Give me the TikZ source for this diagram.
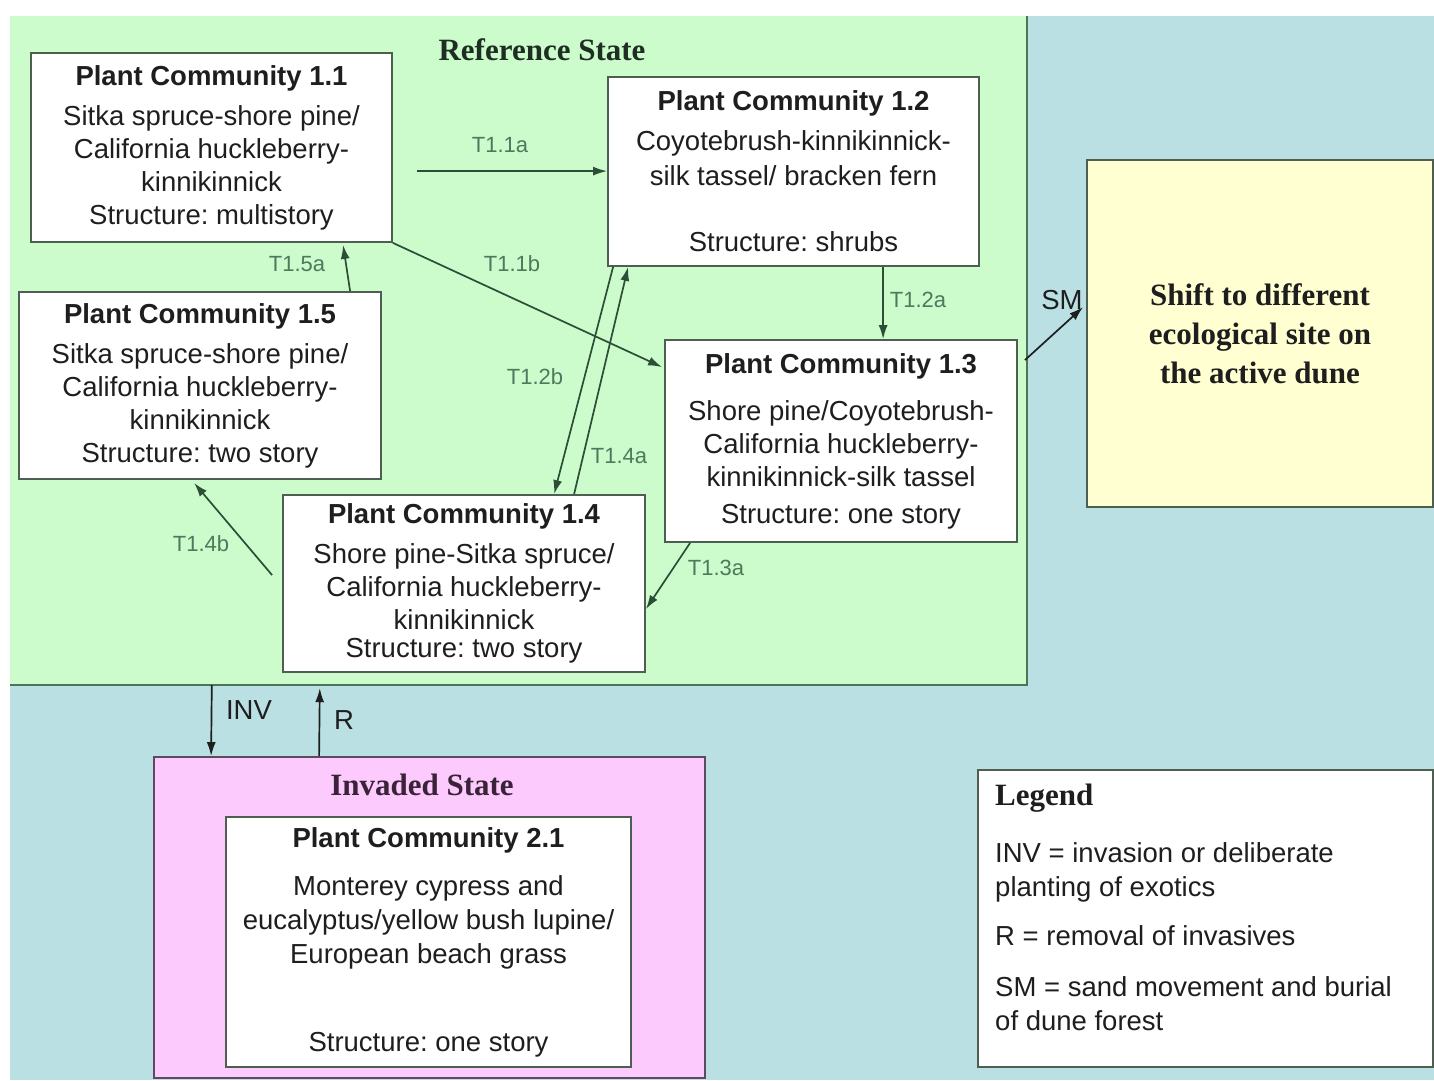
\documentclass[tikz,border=0pt]{standalone}
\usepackage{fontspec}
\setmainfont{Liberation Sans}
\newfontfamily\serifface{Liberation Serif}
\usetikzlibrary{arrows.meta,calc}
\definecolor{greenbg}{HTML}{CCFBCC}
\definecolor{bluebg}{HTML}{BAE0E3}
\definecolor{pinkbg}{HTML}{FCCAFC}
\definecolor{yellowbg}{HTML}{FFFFD2}
\definecolor{boxline}{HTML}{4E5F52}
\definecolor{greenline}{HTML}{4A7556}
\definecolor{pinkline}{HTML}{5E4A5E}
\definecolor{arrowcol}{HTML}{2C4E36}
\definecolor{labelcol}{HTML}{4C7A5C}
\definecolor{textcol}{HTML}{1E1E1E}
\definecolor{refcol}{HTML}{1E2E22}
\definecolor{invcol}{HTML}{3A2238}
\frenchspacing
\begin{document}
\begin{tikzpicture}[x=1pt,y=-1pt,
  pcbox/.style={draw=boxline,line width=1.8pt,fill=white,inner sep=0pt,align=center,text=textcol,font=\fontsize{27.5}{33}\selectfont},
  trans/.style={draw=arrowcol,line width=1.7pt,-{Latex[length=14pt,width=9pt]}},
  blackarrow/.style={draw=textcol,line width=1.7pt,-{Latex[length=14pt,width=9pt]}},
  tlabel/.style={text=labelcol,font=\fontsize{22}{26}\selectfont,inner sep=0pt},
  blabel/.style={text=textcol,font=\fontsize{27.5}{34}\selectfont,inner sep=0pt},
  serifhead/.style={font=\serifface\bfseries\fontsize{31}{39}\selectfont,inner sep=0pt}
]
\useasboundingbox (0,0) rectangle (1434,1080);
\fill[white] (0,0) rectangle (1434,1080);
\fill[bluebg] (10,16) rectangle (1434,1080);
% reference state region
\node[fill=greenbg,minimum width=1017pt,minimum height=669pt,inner sep=0pt] (refstate) at (518.5,350.5) {};
\draw[greenline,line width=2.5pt] (refstate.north east) -- (refstate.south east) -- (refstate.south west);
\node[serifhead,text=refcol] (reftitle) at (542,50) {Reference State};
% plant communities
\node[pcbox,minimum width=361pt,minimum height=189pt] (pc11) at (211.5,147.5)
  {\textbf{Plant Community 1.1}\\[7pt]Sitka spruce-shore pine/\\California huckleberry-\\kinnikinnick\\Structure: multistory};
\node[pcbox,minimum width=371pt,minimum height=189pt] (pc12) at (793.5,171.5)
  {\textbf{Plant Community 1.2}\\[7pt]Coyotebrush-kinnikinnick-\\[2pt]silk tassel/ bracken fern\\[33pt]Structure: shrubs};
\node[pcbox,minimum width=362pt,minimum height=187pt] (pc15) at (200,385.5)
  {\textbf{Plant Community 1.5}\\[7pt]Sitka spruce-shore pine/\\California huckleberry-\\kinnikinnick\\Structure: two story};
\node[pcbox,minimum width=352pt,minimum height=202pt] (pc13) at (841,441)
  {\textbf{Plant Community 1.3}\\[14pt]Shore pine/Coyotebrush-\\California huckleberry-\\kinnikinnick-silk tassel\\[4pt]Structure: one story};
\node[pcbox,minimum width=362pt,minimum height=177pt] (pc14) at (464,583.5)
  {\textbf{Plant Community 1.4}\\[7pt]Shore pine-Sitka spruce/\\California huckleberry-\\kinnikinnick\\[-5pt]Structure: two story};
% shift box
\node[draw=boxline,line width=1.8pt,fill=yellowbg,minimum width=346pt,minimum height=347pt,inner sep=0pt,align=center,text=textcol,font=\serifface\bfseries\fontsize{31}{39}\selectfont] (shift) at (1260,333.5)
  {Shift to different\\ecological site on\\the active dune};
% invaded state
\node[draw=pinkline,fill=pinkbg,line width=1.8pt,minimum width=551pt,minimum height=321pt,inner sep=0pt] (inv) at (429.5,917.5) {};
\node[serifhead,text=invcol] (invtitle) at (422,785) {Invaded State};
\node[pcbox,minimum width=405pt,minimum height=250pt] (pc21) at (428.5,942)
  {\textbf{Plant Community 2.1}\\[15pt]Monterey cypress and\\[1pt]eucalyptus/yellow bush lupine/\\[1pt]European beach grass\\[55pt]Structure: one story};
% legend
\node[draw=boxline,fill=white,line width=1.8pt,minimum width=455pt,minimum height=297pt,inner sep=0pt] (legend) at (1205.5,918.5) {};
\node[serifhead,text=textcol,anchor=west] (legtitle) at (995,798) {Legend};
\node[blabel,anchor=north west,align=left] (legtext) at (995,842)
  {INV = invasion or deliberate\\planting of exotics\\[15pt]R = removal of invasives\\[17pt]SM = sand movement and burial\\of dune forest};
% transitions
\draw[trans] ($(pc11.north east)+(24,119)$) -- ($(pc12.north west)+(0,95)$);
\node[tlabel] (t11a) at (500,145) {T1.1a};
\draw[trans] (pc11.south east) -- ($(pc13.north west)+(-2,28)$);
\node[tlabel] (t11b) at (512,264) {T1.1b};
\draw[trans] ($(pc12.south west)+(276,0)$) -- ($(pc13.north west)+(219,0)$);
\node[tlabel] (t12a) at (918,300) {T1.2a};
\draw[trans] ($(pc12.south west)+(6,0)$) -- ($(pc14.north west)+(272,0)$);
\node[tlabel] (t12b) at (535,377) {T1.2b};
\draw[trans] ($(pc14.north west)+(292,0)$) -- ($(pc12.south west)+(21,0)$);
\node[tlabel] (t14a) at (619,456) {T1.4a};
\draw[trans] ($(pc13.south west)+(26,0)$) -- ($(pc14.north east)+(0,115)$);
\node[tlabel] (t13a) at (716,568) {T1.3a};
\draw[trans] ($(pc14.north west)+(-10,81)$) -- ($(pc15.south west)+(176,3)$);
\node[tlabel] (t14b) at (201,544) {T1.4b};
\draw[trans] ($(pc15.north west)+(332,0)$) -- ($(pc11.south west)+(313,2)$);
\node[tlabel] (t15a) at (297,264) {T1.5a};
% state transitions
\draw[blackarrow] ($(pc13.north east)+(7,21)$) -- ($(shift.north west)+(-3,148)$);
\node[blabel] (smlab) at (1062,300) {SM};
\draw[blackarrow] ($(refstate.south west)+(202,0)$) -- ($(inv.north west)+(58,0)$);
\node[blabel] (invlab) at (249,710) {INV};
\draw[blackarrow] ($(inv.north west)+(166,0)$) -- ($(refstate.south west)+(310,3)$);
\node[blabel] (rlab) at (344,720) {R};
\end{tikzpicture}
\end{document}
